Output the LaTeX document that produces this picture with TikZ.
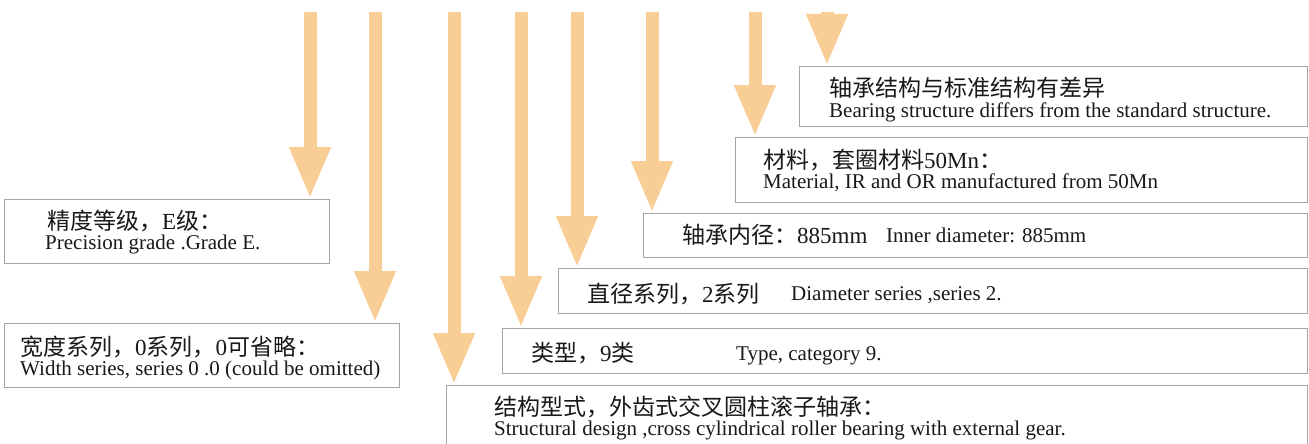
\documentclass[tikz,border=0pt]{standalone}
\usepackage{fontspec}
\setmainfont{Liberation Serif}
\newfontfamily\cjk{Noto Sans CJK SC}
\usepackage{xcolor}
\usepackage{tikz}
\usetikzlibrary{arrows.meta, positioning, backgrounds}

\definecolor{arrowfill}{RGB}{249,205,150}
\definecolor{boxline}{RGB}{165,165,165}
\newcommand{\zh}[1]{{\cjk #1}}

\begin{document}
\begin{tikzpicture}[
    x=1pt, y=-1pt,
    infobox/.style={
      rectangle, draw=boxline, line width=1.4pt,
      fill=white, anchor=north west, inner sep=0pt
    },
    zhtext/.style={
      anchor=base west, inner sep=0pt, text=black!90,
      font=\fontsize{23}{27}\selectfont
    },
    entext/.style={
      anchor=base west, inner sep=0pt, text=black!90,
      font=\fontsize{21}{25}\selectfont
    },
    arr/.style={-{Triangle[length=52pt, width=38pt]}, line width=13pt,
      draw=arrowfill}
  ]

    \clip (0,0) rectangle (1309,444);

    % boxes, from the bottom step up
    \node[infobox, minimum width=325, minimum height=64] (prec) at (4,199) {};
    \node[infobox, minimum width=395, minimum height=64] (width) at (4,323) {};
    \node[infobox, minimum width=861, minimum height=70] (design) at (446,385) {};
    \node[infobox, minimum width=805, minimum height=45] (type) at (502,328) {};
    \node[infobox, minimum width=749, minimum height=45] (diam) at (558,268) {};
    \node[infobox, minimum width=664, minimum height=44] (bore) at (643,213) {};
    \node[infobox, minimum width=572, minimum height=65] (mat) at (735,137) {};
    \node[infobox, minimum width=508, minimum height=60] (struct) at (799,66) {};

    % texts
    \node[zhtext] (precz) at (47,229.5) {\zh{精度等级，}E\zh{级：}};
    \node[entext] (prece) at (45,249) {Precision grade .Grade E.};
    \node[zhtext] (widthz) at (20,355) {\zh{宽度系列，}0\zh{系列，}0\zh{可省略：}};
    \node[entext] (widthe) at (20,375) {Width series, series 0 .0 (could be omitted)};
    \node[zhtext] (designz) at (494,415) {\zh{结构型式，外齿式交叉圆柱滚子轴承：}};
    \node[entext] (designe) at (494,435)
      {Structural design ,cross cylindrical roller bearing with external gear.};
    \node[zhtext] (typez) at (531,361) {\zh{类型，}9\zh{类}};
    \node[entext] (typee) at (736,360) {Type, category 9.};
    \node[zhtext] (diamz) at (587,302) {\zh{直径系列，}2\zh{系列}};
    \node[entext] (diame) at (791,300) {Diameter series ,series 2.};
    \node[zhtext] (borez) at (682,243) {\zh{轴承内径：}885mm};
    \node[entext] (boree) at (886,242) {Inner diameter: 885mm};
    \node[zhtext] (matz) at (763,168) {\zh{材料，套圈材料}50Mn\zh{：}};
    \node[entext] (mate) at (763,188) {Material, IR and OR manufactured from 50Mn};
    \node[zhtext] (structz) at (829,96) {\zh{轴承结构与标准结构有差异}};
    \node[entext] (structe) at (829,117)
      {Bearing structure differs from the standard structure.};

    % arrow starts
    \coordinate (sprec) at (310,12);
    \coordinate (swidth) at (375,12);
    \coordinate (sdesign) at (454,12);
    \coordinate (stype) at (521,12);
    \coordinate (sdiam) at (577,12);
    \coordinate (sbore) at (652,12);
    \coordinate (smat) at (755,12);
    \coordinate (sstruct) at (827,12);

    \begin{scope}[on background layer]
      \draw[arr] (sprec)   -- (sprec |- prec.north);
      \draw[arr] (swidth)  -- (swidth |- width.north);
      \draw[arr] (sdesign) -- (sdesign |- design.north);
      \draw[arr] (stype)   -- (stype |- type.north);
      \draw[arr] (sdiam)   -- (sdiam |- diam.north);
      \draw[arr] (sbore)   -- (sbore |- bore.north);
      \draw[arr] (smat)    -- (smat |- mat.north);
      \draw[arr] (sstruct) -- (sstruct |- struct.north);
    \end{scope}
  \end{tikzpicture}
\end{document}
